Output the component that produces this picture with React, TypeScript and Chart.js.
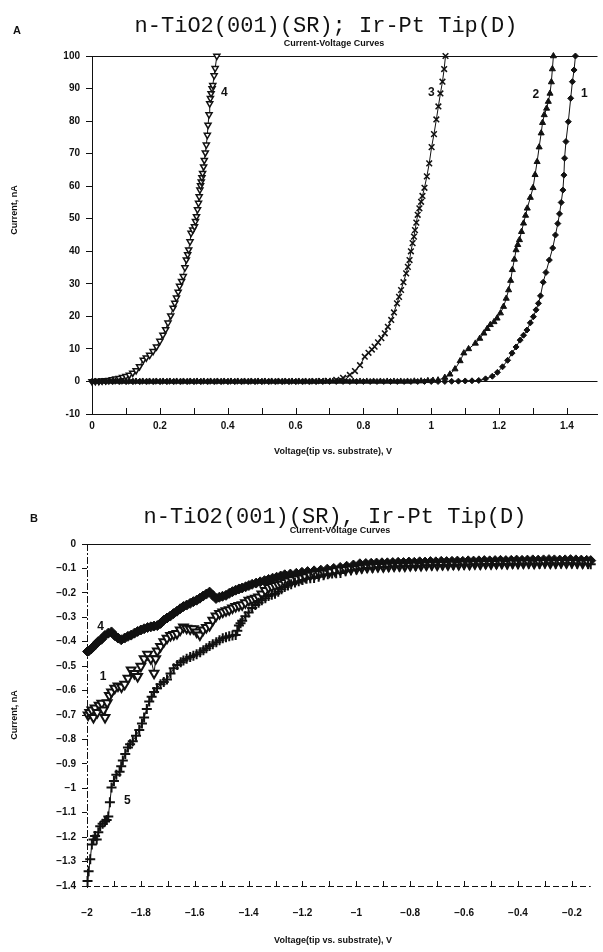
import React, { useEffect, useRef } from 'react';
import { Chart, registerables } from 'chart.js';
Chart.register(...registerables);

type Pt = [number, number];

// ---------- Panel A : Current (nA) vs Voltage (V) ----------
const curveA1: Pt[] = [
  [0, 0], [0.02, 0], [0.04, 0], [0.06, 0], [0.08, 0], [0.1, 0], [0.12, 0], [0.14, 0], [0.16, 0], [0.18, 0],
  [0.2, 0], [0.22, 0], [0.24, 0], [0.26, 0], [0.28, 0], [0.3, 0], [0.32, 0], [0.34, 0], [0.36, 0], [0.38, 0],
  [0.4, 0], [0.42, 0], [0.44, 0], [0.46, 0], [0.48, 0], [0.5, 0], [0.52, 0], [0.54, 0], [0.56, 0], [0.58, 0],
  [0.6, 0], [0.62, 0], [0.64, 0], [0.66, 0], [0.68, 0], [0.7, 0], [0.72, 0], [0.74, 0], [0.76, 0], [0.78, 0],
  [0.8, 0], [0.82, 0], [0.84, 0], [0.86, 0], [0.88, 0], [0.9, 0], [0.92, 0], [0.94, 0], [0.96, 0], [0.98, 0],
  [1.0, 0], [1.02, 0], [1.04, 0], [1.06, 0.05], [1.08, 0.1], [1.1, 0.15], [1.12, 0.2], [1.14, 0.3],
  [1.16, 0.8], [1.18, 1.6], [1.195, 2.8], [1.21, 4.5], [1.225, 6.5], [1.238, 8.7], [1.25, 10.6], [1.262, 12.7],
  [1.272, 14.2], [1.282, 15.8], [1.292, 18.0], [1.301, 19.9], [1.309, 22.0], [1.316, 24.0], [1.322, 26.3],
  [1.33, 30.5], [1.338, 33.5], [1.348, 37.3], [1.358, 41.0], [1.366, 45.0], [1.373, 48.5], [1.378, 51.5],
  [1.383, 55.0], [1.388, 58.8], [1.391, 63.4], [1.393, 68.6], [1.397, 73.7], [1.404, 79.8], [1.411, 87.0],
  [1.416, 92.1], [1.421, 95.7], [1.425, 100],
];
const curveA2: Pt[] = [
  [0.01, 0], [0.03, 0], [0.05, 0], [0.07, 0], [0.09, 0], [0.11, 0], [0.13, 0], [0.15, 0], [0.17, 0], [0.19, 0],
  [0.21, 0], [0.23, 0], [0.25, 0], [0.27, 0], [0.29, 0], [0.31, 0], [0.33, 0], [0.35, 0], [0.37, 0], [0.39, 0],
  [0.41, 0], [0.43, 0], [0.45, 0], [0.47, 0], [0.49, 0], [0.51, 0], [0.53, 0], [0.55, 0], [0.57, 0], [0.59, 0],
  [0.61, 0], [0.63, 0], [0.65, 0], [0.67, 0], [0.69, 0], [0.71, 0], [0.73, 0], [0.75, 0], [0.77, 0], [0.79, 0],
  [0.81, 0], [0.83, 0], [0.85, 0], [0.87, 0], [0.89, 0], [0.91, 0], [0.93, 0], [0.95, 0.05], [0.97, 0.1],
  [0.99, 0.2], [1.005, 0.3], [1.02, 0.4], [1.04, 1.2], [1.055, 2.2], [1.07, 3.8],
  [1.085, 6.3], [1.096, 8.7], [1.11, 10.0], [1.13, 11.7], [1.143, 13.2], [1.155, 14.8], [1.165, 16.2],
  [1.174, 17.4], [1.185, 18.3], [1.194, 19.4], [1.204, 21.0], [1.213, 23.0], [1.221, 25.5], [1.228, 28.1],
  [1.234, 31.0], [1.239, 34.3], [1.245, 37.5], [1.25, 40.4], [1.255, 42.0], [1.26, 43.5], [1.266, 46.0],
  [1.272, 48.6], [1.278, 51.0], [1.283, 53.2], [1.292, 56.5], [1.3, 59.5], [1.306, 63.5], [1.312, 67.5],
  [1.318, 72.0], [1.324, 76.3], [1.328, 79.5], [1.333, 81.9], [1.34, 83.9], [1.345, 86.0], [1.35, 88.5],
  [1.354, 92.0], [1.357, 96.0], [1.36, 100],
];
const curveA3: Pt[] = [
  [0.015, 0], [0.035, 0], [0.055, 0], [0.075, 0], [0.095, 0], [0.115, 0], [0.135, 0], [0.155, 0], [0.175, 0],
  [0.195, 0], [0.215, 0], [0.235, 0], [0.255, 0], [0.275, 0], [0.295, 0], [0.315, 0], [0.335, 0], [0.355, 0],
  [0.375, 0], [0.395, 0], [0.415, 0], [0.435, 0], [0.455, 0], [0.475, 0], [0.495, 0], [0.515, 0], [0.535, 0],
  [0.555, 0], [0.575, 0], [0.595, 0], [0.615, 0], [0.635, 0], [0.655, 0.05], [0.675, 0.1], [0.695, 0.15],
  [0.72, 0.5], [0.74, 1.1], [0.76, 2.0], [0.775, 3.2],
  [0.79, 5.0], [0.804, 7.6], [0.815, 8.8], [0.825, 9.8], [0.833, 10.7], [0.843, 12.0], [0.853, 13.3],
  [0.863, 14.8], [0.872, 16.8], [0.882, 18.9], [0.89, 21.2], [0.899, 24.0], [0.905, 26.0], [0.911, 28.1],
  [0.918, 30.5], [0.926, 33.2], [0.931, 35.2], [0.936, 37.3], [0.94, 40.0], [0.945, 42.5], [0.949, 44.5],
  [0.952, 46.5], [0.956, 48.8], [0.96, 51.2], [0.965, 53.2], [0.97, 55.2], [0.974, 57.0], [0.98, 59.5],
  [0.987, 63.0], [0.994, 67.0], [1.001, 72.0], [1.008, 76.0], [1.015, 80.5], [1.021, 84.5], [1.027, 88.5],
  [1.033, 92.1], [1.038, 96.0], [1.042, 100],
];
const curveA4: Pt[] = [
  [0, 0], [0.01, 0.05], [0.02, 0.1], [0.03, 0.2], [0.04, 0.3], [0.05, 0.4], [0.06, 0.6], [0.07, 0.8],
  [0.08, 1.0], [0.09, 1.3], [0.1, 1.6], [0.11, 2.0], [0.12, 2.6], [0.13, 3.4], [0.14, 4.6], [0.151, 6.6],
  [0.16, 7.3], [0.17, 8.1], [0.18, 9.3], [0.19, 10.7], [0.2, 12.4], [0.209, 14.3], [0.217, 16.0],
  [0.224, 18.0], [0.232, 20.2], [0.239, 22.6], [0.244, 24.1], [0.249, 25.7], [0.254, 27.5], [0.258, 29.3],
  [0.264, 30.8], [0.269, 32.3], [0.274, 35.0], [0.278, 37.4], [0.282, 39.0], [0.285, 40.5], [0.289, 43.0],
  [0.292, 45.6], [0.297, 46.6], [0.302, 47.6], [0.305, 49.2], [0.308, 50.7], [0.311, 52.8], [0.314, 54.8],
  [0.316, 56.8], [0.318, 58.9], [0.32, 60.2], [0.322, 61.4], [0.324, 62.7], [0.326, 64.0], [0.329, 66.0],
  [0.331, 68.0], [0.334, 70.3], [0.337, 72.7], [0.34, 75.7], [0.342, 78.8], [0.345, 82.0], [0.347, 85.4],
  [0.349, 87.0], [0.351, 88.5], [0.354, 90.0], [0.356, 91.0], [0.36, 94.0], [0.363, 96.2], [0.368, 100],
];
const xTicksA = [0, 0.1, 0.2, 0.3, 0.4, 0.5, 0.6, 0.7, 0.8, 0.9, 1.0, 1.1, 1.2, 1.3, 1.4];
const xTickLabelsA = ['0', '', '0.2', '', '0.4', '', '0.6', '', '0.8', '', '1', '', '1.2', '', '1.4'];
const yTicksA = [-10, 0, 10, 20, 30, 40, 50, 60, 70, 80, 90, 100];
const curveLabelsA: { t: string; v: number; i: number }[] = [
  { t: '4', v: 0.39, i: 88.6 },
  { t: '3', v: 1.0, i: 88.6 },
  { t: '2', v: 1.308, i: 88.0 },
  { t: '1', v: 1.451, i: 88.3 },
];

// ---------- Panel B : Current (nA) vs Voltage (V) ----------
const curveB4: Pt[] = [
  [-1.998, -0.44], [-1.994, -0.438], [-1.985, -0.43], [-1.976, -0.42], [-1.967, -0.41], [-1.958, -0.399],
  [-1.946, -0.39], [-1.934, -0.375], [-1.921, -0.365], [-1.909, -0.36], [-1.897, -0.375], [-1.885, -0.385],
  [-1.873, -0.392], [-1.86, -0.385], [-1.848, -0.378], [-1.836, -0.373], [-1.824, -0.365], [-1.812, -0.358],
  [-1.8, -0.352], [-1.788, -0.347], [-1.775, -0.342], [-1.763, -0.339], [-1.751, -0.336], [-1.739, -0.334],
  [-1.727, -0.325], [-1.715, -0.312], [-1.703, -0.303], [-1.691, -0.295], [-1.679, -0.285], [-1.666, -0.275],
  [-1.654, -0.265], [-1.642, -0.256], [-1.63, -0.25], [-1.617, -0.243], [-1.605, -0.236], [-1.593, -0.23],
  [-1.581, -0.222], [-1.569, -0.213], [-1.557, -0.205], [-1.545, -0.197], [-1.533, -0.21], [-1.521, -0.223],
  [-1.509, -0.218], [-1.497, -0.214], [-1.484, -0.21], [-1.472, -0.202], [-1.46, -0.195], [-1.448, -0.189],
  [-1.436, -0.184], [-1.424, -0.18], [-1.411, -0.175], [-1.399, -0.17], [-1.387, -0.165], [-1.372, -0.16],
  [-1.357, -0.155], [-1.341, -0.15], [-1.326, -0.145], [-1.311, -0.14], [-1.296, -0.136], [-1.281, -0.131],
  [-1.266, -0.126], [-1.245, -0.123], [-1.223, -0.12], [-1.202, -0.116], [-1.181, -0.113], [-1.157, -0.11],
  [-1.132, -0.107], [-1.108, -0.103], [-1.084, -0.1], [-1.06, -0.096], [-1.036, -0.091], [-1.011, -0.086],
  [-0.987, -0.081], [-0.965, -0.08], [-0.945, -0.079], [-0.925, -0.078], [-0.905, -0.077], [-0.885, -0.077],
  [-0.865, -0.076], [-0.845, -0.075], [-0.825, -0.076], [-0.805, -0.074], [-0.785, -0.075], [-0.765, -0.073],
  [-0.745, -0.074], [-0.725, -0.072], [-0.705, -0.073], [-0.685, -0.071], [-0.665, -0.072], [-0.645, -0.071],
  [-0.625, -0.07], [-0.605, -0.071], [-0.585, -0.069], [-0.565, -0.07], [-0.545, -0.069], [-0.525, -0.068],
  [-0.505, -0.069], [-0.485, -0.068], [-0.465, -0.067], [-0.445, -0.068], [-0.425, -0.067], [-0.405, -0.066],
  [-0.385, -0.067], [-0.365, -0.066], [-0.345, -0.065], [-0.325, -0.066], [-0.305, -0.065], [-0.285, -0.064],
  [-0.265, -0.065], [-0.245, -0.066], [-0.225, -0.065], [-0.205, -0.064], [-0.185, -0.065], [-0.165, -0.066],
  [-0.145, -0.067], [-0.13, -0.068],
];
const curveB1: Pt[] = [
  [-1.996, -0.7], [-1.99, -0.69], [-1.982, -0.68], [-1.976, -0.71], [-1.97, -0.671], [-1.962, -0.69],
  [-1.955, -0.66], [-1.945, -0.652], [-1.939, -0.68], [-1.933, -0.71], [-1.925, -0.65], [-1.917, -0.62],
  [-1.909, -0.606], [-1.897, -0.59], [-1.885, -0.581], [-1.872, -0.585], [-1.86, -0.574], [-1.848, -0.55],
  [-1.836, -0.516], [-1.824, -0.53], [-1.812, -0.542], [-1.8, -0.5], [-1.788, -0.47], [-1.775, -0.451],
  [-1.763, -0.47], [-1.751, -0.529], [-1.745, -0.47], [-1.739, -0.438], [-1.727, -0.42], [-1.715, -0.4],
  [-1.703, -0.386], [-1.69, -0.375], [-1.678, -0.37], [-1.666, -0.366], [-1.654, -0.352], [-1.642, -0.34],
  [-1.63, -0.345], [-1.617, -0.348], [-1.605, -0.347], [-1.593, -0.36], [-1.581, -0.373], [-1.569, -0.352],
  [-1.557, -0.342], [-1.545, -0.334], [-1.533, -0.312], [-1.521, -0.295], [-1.508, -0.285], [-1.496, -0.278],
  [-1.484, -0.273], [-1.472, -0.269], [-1.46, -0.262], [-1.448, -0.256], [-1.436, -0.252], [-1.424, -0.249],
  [-1.412, -0.24], [-1.399, -0.23], [-1.387, -0.226], [-1.375, -0.222], [-1.363, -0.217], [-1.351, -0.205],
  [-1.338, -0.19], [-1.326, -0.178], [-1.314, -0.174], [-1.302, -0.17], [-1.29, -0.167], [-1.278, -0.165],
  [-1.266, -0.158], [-1.254, -0.151], [-1.24, -0.146], [-1.222, -0.142], [-1.205, -0.139], [-1.19, -0.134],
  [-1.172, -0.128], [-1.155, -0.124], [-1.138, -0.121], [-1.12, -0.119], [-1.1, -0.114], [-1.08, -0.109],
  [-1.06, -0.106], [-1.04, -0.104], [-1.02, -0.102], [-0.999, -0.1], [-0.98, -0.097], [-0.96, -0.095],
  [-0.94, -0.094], [-0.92, -0.092], [-0.9, -0.093], [-0.88, -0.091], [-0.86, -0.09], [-0.84, -0.089],
  [-0.82, -0.09], [-0.8, -0.088], [-0.78, -0.087], [-0.76, -0.088], [-0.74, -0.086], [-0.72, -0.085],
  [-0.7, -0.086], [-0.68, -0.084], [-0.66, -0.085], [-0.64, -0.083], [-0.62, -0.084], [-0.6, -0.082],
  [-0.58, -0.083], [-0.56, -0.081], [-0.54, -0.082], [-0.52, -0.08], [-0.5, -0.081], [-0.48, -0.08],
  [-0.46, -0.079], [-0.44, -0.08], [-0.42, -0.078], [-0.4, -0.079], [-0.38, -0.078], [-0.36, -0.077],
  [-0.34, -0.079], [-0.32, -0.077], [-0.3, -0.076], [-0.28, -0.078], [-0.26, -0.077], [-0.24, -0.076],
  [-0.22, -0.077], [-0.2, -0.076], [-0.18, -0.077], [-0.16, -0.078], [-0.14, -0.077],
];
const curveB5: Pt[] = [
  [-1.998, -1.38], [-1.994, -1.34], [-1.988, -1.29], [-1.982, -1.23], [-1.976, -1.21], [-1.97, -1.195],
  [-1.964, -1.21], [-1.958, -1.18], [-1.951, -1.155], [-1.942, -1.145], [-1.933, -1.136], [-1.927, -1.13],
  [-1.921, -1.116], [-1.915, -1.057], [-1.909, -0.997], [-1.9, -0.97], [-1.891, -0.945], [-1.879, -0.932],
  [-1.873, -0.91], [-1.867, -0.886], [-1.858, -0.86], [-1.848, -0.833], [-1.84, -0.82], [-1.83, -0.807],
  [-1.818, -0.785], [-1.806, -0.761], [-1.796, -0.735], [-1.788, -0.71], [-1.778, -0.675], [-1.769, -0.645],
  [-1.76, -0.625], [-1.751, -0.606], [-1.74, -0.59], [-1.727, -0.574], [-1.715, -0.565], [-1.703, -0.555],
  [-1.69, -0.53], [-1.678, -0.509], [-1.665, -0.495], [-1.652, -0.484], [-1.642, -0.477], [-1.63, -0.47],
  [-1.617, -0.463], [-1.605, -0.457], [-1.593, -0.451], [-1.58, -0.443], [-1.568, -0.435], [-1.557, -0.427],
  [-1.545, -0.418], [-1.533, -0.41], [-1.52, -0.402], [-1.508, -0.394], [-1.496, -0.386], [-1.484, -0.382],
  [-1.472, -0.378], [-1.46, -0.375], [-1.448, -0.373], [-1.442, -0.355], [-1.436, -0.334], [-1.43, -0.324],
  [-1.424, -0.314], [-1.412, -0.296], [-1.4, -0.28], [-1.387, -0.262], [-1.375, -0.25], [-1.363, -0.24],
  [-1.351, -0.23], [-1.338, -0.222], [-1.326, -0.213], [-1.314, -0.208], [-1.302, -0.204], [-1.29, -0.195],
  [-1.278, -0.185], [-1.266, -0.176], [-1.254, -0.17], [-1.242, -0.165], [-1.228, -0.158], [-1.214, -0.152],
  [-1.2, -0.147], [-1.185, -0.142], [-1.171, -0.14], [-1.157, -0.139], [-1.14, -0.134], [-1.122, -0.128],
  [-1.106, -0.124], [-1.09, -0.121], [-1.075, -0.12], [-1.059, -0.119], [-1.04, -0.112], [-1.02, -0.107],
  [-1.0, -0.104], [-0.98, -0.1], [-0.96, -0.098], [-0.94, -0.097], [-0.92, -0.095], [-0.9, -0.094],
  [-0.88, -0.093], [-0.86, -0.091], [-0.84, -0.092], [-0.82, -0.09], [-0.8, -0.089], [-0.78, -0.09],
  [-0.76, -0.088], [-0.74, -0.087], [-0.72, -0.088], [-0.7, -0.086], [-0.68, -0.087], [-0.66, -0.085],
  [-0.64, -0.086], [-0.62, -0.084], [-0.6, -0.085], [-0.58, -0.084], [-0.56, -0.083], [-0.54, -0.084],
  [-0.52, -0.082], [-0.5, -0.083], [-0.48, -0.082], [-0.46, -0.081], [-0.44, -0.083], [-0.42, -0.081],
  [-0.4, -0.082], [-0.38, -0.08], [-0.36, -0.081], [-0.34, -0.08], [-0.32, -0.082], [-0.3, -0.08],
  [-0.28, -0.079], [-0.26, -0.081], [-0.24, -0.08], [-0.22, -0.079], [-0.2, -0.08], [-0.18, -0.081],
  [-0.16, -0.08], [-0.14, -0.082], [-0.13, -0.083],
];
const xTicksB = [-2, -1.9, -1.8, -1.7, -1.6, -1.5, -1.4, -1.3, -1.2, -1.1, -1, -0.9, -0.8, -0.7, -0.6, -0.5, -0.4, -0.3, -0.2];
const xTickLabelsB = ['−2', '', '−1.8', '', '−1.6', '', '−1.4', '', '−1.2', '', '−1', '', '−0.8', '', '−0.6', '', '−0.4', '', '−0.2'];
const yTicksB = [0, -0.1, -0.2, -0.3, -0.4, -0.5, -0.6, -0.7, -0.8, -0.9, -1, -1.1, -1.2, -1.3, -1.4];
const yTickLabelsB = ['0', '−0.1', '−0.2', '−0.3', '−0.4', '−0.5', '−0.6', '−0.7', '−0.8', '−0.9', '−1', '−1.1', '−1.2', '−1.3', '−1.4'];
const curveLabelsB: { t: string; v: number; i: number }[] = [
  { t: '4', v: -1.95, i: -0.34 },
  { t: '1', v: -1.94, i: -0.545 },
  { t: '5', v: -1.85, i: -1.05 },
];

const SANS = '"Liberation Sans", Arial, Helvetica, sans-serif';
const MONO = '"Liberation Mono", "Courier New", monospace';
const INK = '#111';

type TextItem = { t: string; x: number; y: number; font: string; rot?: number };

const toXY = (pts: Pt[]) => pts.map(([x, y]) => ({ x, y }));

function makeDecor(
  texts: TextItem[],
  curveLabels: { t: string; v: number; i: number }[],
  tickLen: number,
  dashedAxes: boolean,
) {
  return {
    id: 'decor',
    afterDraw(chart: any) {
      const ctx = chart.ctx;
      const xs = chart.scales.x;
      const ys = chart.scales.y;
      const { left, right, top, bottom } = chart.chartArea;
      ctx.save();
      ctx.strokeStyle = INK;
      ctx.lineWidth = 1;
      if (dashedAxes) {
        ctx.setLineDash([7, 2, 2, 2]);
        ctx.beginPath();
        ctx.moveTo(Math.round(left) + 0.5, top);
        ctx.lineTo(Math.round(left) + 0.5, bottom + 2);
        ctx.stroke();
        ctx.setLineDash([6, 3]);
        ctx.beginPath();
        ctx.moveTo(left - 2, Math.round(bottom) + 0.5);
        ctx.lineTo(right, Math.round(bottom) + 0.5);
        ctx.stroke();
        ctx.setLineDash([]);
      }
      // inward x tick marks
      xs.ticks.forEach((tk: any) => {
        const px = Math.round(xs.getPixelForValue(tk.value)) + 0.5;
        ctx.beginPath();
        ctx.moveTo(px, bottom);
        ctx.lineTo(px, bottom - tickLen);
        ctx.stroke();
      });
      ctx.fillStyle = INK;
      ctx.textAlign = 'center';
      ctx.textBaseline = 'middle';
      texts.forEach((it) => {
        ctx.save();
        ctx.font = it.font;
        ctx.translate(it.x, it.y);
        if (it.rot) ctx.rotate(it.rot);
        ctx.fillText(it.t, 0, 0);
        ctx.restore();
      });
      ctx.font = `bold 12px ${SANS}`;
      curveLabels.forEach((c) => {
        ctx.fillText(c.t, xs.getPixelForValue(c.v), ys.getPixelForValue(c.i));
      });
      ctx.restore();
    },
  };
}

function ds(label: string, pts: Pt[], style: string, radius: number, fill: string, bw: number, rot = 0) {
  return {
    label,
    data: toXY(pts),
    showLine: true,
    borderColor: INK,
    borderWidth: 1,
    pointStyle: style,
    pointRadius: radius,
    pointRotation: rot,
    pointBackgroundColor: fill,
    pointBorderColor: INK,
    pointBorderWidth: bw,
    clip: false,
  };
}

const tickFont = { family: SANS, size: 10, weight: 'bold' as const };

function configA() {
  return {
    type: 'scatter',
    data: {
      datasets: [
        ds('1', curveA1, 'rectRot', 3, INK, 1),
        ds('2', curveA2, 'triangle', 3.5, INK, 1),
        ds('3', curveA3, 'crossRot', 4, INK, 1.5),
        ds('4', curveA4, 'triangle', 3.5, '#fff', 1.5, 180),
      ],
    },
    options: {
      animation: false,
      responsive: false,
      maintainAspectRatio: false,
      layout: { padding: { left: 0, right: 2, top: 56, bottom: 0 } },
      plugins: { legend: { display: false }, tooltip: { enabled: false }, title: { display: false } },
      scales: {
        x: {
          type: 'linear',
          min: 0,
          max: 1.49,
          afterBuildTicks: (s: any) => { s.ticks = xTicksA.map((v) => ({ value: v })); },
          afterFit: (s: any) => { s.height = 56; },
          ticks: {
            color: INK,
            font: tickFont,
            padding: 6,
            maxRotation: 0,
            autoSkip: false,
            callback: (_v: any, idx: number) => xTickLabelsA[idx],
          },
          grid: { display: false, drawTicks: false },
          border: { display: true, color: INK, width: 1 },
        },
        y: {
          type: 'linear',
          min: -10,
          max: 100,
          afterBuildTicks: (s: any) => { s.ticks = yTicksA.map((v) => ({ value: v })); },
          afterFit: (s: any) => { s.width = 92; },
          ticks: { color: INK, font: tickFont, padding: 6, autoSkip: false, callback: (v: any) => String(v) },
          grid: {
            drawOnChartArea: true,
            drawTicks: true,
            tickLength: 6,
            tickColor: INK,
            color: (c: any) => (c.tick && (c.tick.value === 0 || c.tick.value === 100) ? INK : 'rgba(0,0,0,0)'),
            lineWidth: 1,
          },
          border: { display: true, color: INK, width: 1 },
        },
      },
    },
    plugins: [
      makeDecor(
        [
          { t: 'A', x: 17, y: 31, font: `bold 11px ${SANS}` },
          { t: 'n-TiO2(001)(SR); Ir-Pt Tip(D)', x: 326, y: 26, font: `22px ${MONO}` },
          { t: 'Current-Voltage Curves', x: 334, y: 44, font: `bold 9px ${SANS}` },
          { t: 'Current, nA', x: 15, y: 210, font: `bold 9px ${SANS}`, rot: -Math.PI / 2 },
          { t: 'Voltage(tip vs. substrate), V', x: 333, y: 452, font: `bold 9px ${SANS}` },
        ],
        curveLabelsA,
        6,
        false,
      ),
    ],
  };
}

function configB() {
  return {
    type: 'scatter',
    data: {
      datasets: [
        ds('5', curveB5, 'cross', 5, INK, 2),
        ds('1', curveB1, 'triangle', 5, '#fff', 2, 180),
        ds('4', curveB4, 'rectRot', 5, INK, 1),
      ],
    },
    options: {
      animation: false,
      responsive: false,
      maintainAspectRatio: false,
      layout: { padding: { left: 0, right: 2, top: 74, bottom: 0 } },
      plugins: { legend: { display: false }, tooltip: { enabled: false }, title: { display: false } },
      scales: {
        x: {
          type: 'linear',
          min: -2,
          max: -0.13,
          afterBuildTicks: (s: any) => { s.ticks = xTicksB.map((v) => ({ value: v })); },
          afterFit: (s: any) => { s.height = 66; },
          ticks: {
            color: INK,
            font: tickFont,
            padding: 21,
            maxRotation: 0,
            autoSkip: false,
            callback: (_v: any, idx: number) => xTickLabelsB[idx],
          },
          grid: { display: false, drawTicks: false },
          border: { display: false },
        },
        y: {
          type: 'linear',
          min: -1.4,
          max: 0,
          afterBuildTicks: (s: any) => { s.ticks = yTicksB.map((v) => ({ value: v })); },
          afterFit: (s: any) => { s.width = 87; },
          ticks: {
            color: INK,
            font: tickFont,
            padding: 6,
            autoSkip: false,
            callback: (_v: any, idx: number) => yTickLabelsB[idx],
          },
          grid: {
            drawOnChartArea: true,
            drawTicks: true,
            tickLength: 5,
            tickColor: INK,
            color: (c: any) => (c.tick && c.tick.value === 0 ? INK : 'rgba(0,0,0,0)'),
            lineWidth: 1,
          },
          border: { display: false },
        },
      },
    },
    plugins: [
      makeDecor(
        [
          { t: 'B', x: 34, y: 49, font: `bold 11px ${SANS}` },
          { t: 'n-TiO2(001)(SR), Ir-Pt Tip(D)', x: 335, y: 47, font: `22px ${MONO}` },
          { t: 'Current-Voltage Curves', x: 340, y: 61, font: `bold 9px ${SANS}` },
          { t: 'Current, nA', x: 15, y: 245, font: `bold 9px ${SANS}`, rot: -Math.PI / 2 },
          { t: 'Voltage(tip vs. substrate), V', x: 333, y: 471, font: `bold 9px ${SANS}` },
        ],
        curveLabelsB,
        5,
        true,
      ),
    ],
  };
}

function ChartCanvas({ make, top, height }: { make: () => any; top: number; height: number }) {
  const ref = useRef<HTMLCanvasElement | null>(null);
  useEffect(() => {
    if (!ref.current) return;
    const chart = new Chart(ref.current, make());
    return () => chart.destroy();
  }, [make]);
  return (
    <canvas
      ref={ref}
      width={603}
      height={height}
      style={{ position: 'absolute', left: 0, top, width: 603, height, display: 'block' }}
    />
  );
}

export default function App() {
  return (
    <div style={{ position: 'absolute', left: 0, top: 0, width: 603, height: 952, background: '#fff', overflow: 'hidden' }}>
      <ChartCanvas make={configA} top={0} height={470} />
      <ChartCanvas make={configB} top={470} height={482} />
    </div>
  );
}
